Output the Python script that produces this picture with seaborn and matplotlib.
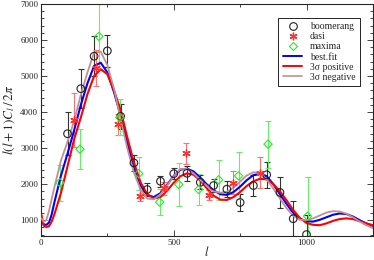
import pandas as pd
import matplotlib
matplotlib.use("Agg")
import matplotlib.pyplot as plt
import seaborn as sns
from matplotlib.ticker import MultipleLocator

# measured band powers
boom_l = [100, 150, 200, 250, 300, 350, 400, 450, 500, 550, 600, 650, 700, 750, 800, 850, 900, 950, 1000]
boom_v = [3400, 4650, 5550, 5700, 3880, 2590, 1850, 2080, 2290, 2300, 2050, 1960, 1860, 1490, 1960, 2260, 1770, 1040, 600]
boom_e = [600, 550, 550, 450, 350, 230, 180, 150, 150, 200, 190, 190, 220, 230, 290, 360, 420, 480, 550]

dasi_l = [124, 207, 290, 372, 462, 548, 632, 722, 823]
dasi_v = [3790, 5220, 3660, 1680, 1880, 2860, 1700, 2040, 2320]
dasi_e = [750, 500, 300, 150, 170, 290, 150, 320, 440]

maxima_l = [71, 147, 218, 297, 368, 447, 519, 594, 669, 744, 855, 1004]
maxima_v = [2040, 2970, 6100, 3850, 2290, 1500, 1990, 1850, 2120, 2230, 3110, 1110]
maxima_e = [500, 550, 900, 500, 460, 360, 600, 430, 550, 650, 650, 1100]

# model spectra
model_l = [2, 10, 20, 30, 40, 50, 75, 100, 125, 150, 175, 200, 225, 250, 275, 300, 325, 350, 375,
           400, 425, 450, 475, 500, 525, 550, 575, 600, 625, 650, 675, 700, 725, 750, 775, 800,
           825, 850, 875, 900, 925, 950, 975, 1000, 1025, 1050, 1075, 1100, 1125, 1150, 1175,
           1200, 1225, 1250]
best_fit = [1000, 880, 870, 930, 1150, 1480, 2230, 2850, 3500, 4200, 4800, 5280, 5370, 5100, 4550,
            3900, 3150, 2480, 1960, 1700, 1640, 1750, 1980, 2230, 2400, 2430, 2350, 2180, 1990,
            1830, 1720, 1700, 1780, 1930, 2110, 2250, 2290, 2220, 2000, 1720, 1450, 1200, 1040,
            970, 960, 1010, 1080, 1150, 1185, 1170, 1100, 1000, 910, 840]
sig_pos = [1140, 850, 810, 830, 960, 1150, 1750, 2500, 3250, 3850, 4500, 5000, 5190, 5050, 4600,
           4050, 3300, 2600, 2050, 1720, 1600, 1640, 1820, 2040, 2220, 2300, 2260, 2100, 1880,
           1680, 1570, 1560, 1640, 1780, 1950, 2080, 2150, 2130, 2000, 1800, 1550, 1280, 1060,
           920, 870, 860, 910, 980, 1030, 1050, 1030, 970, 910, 860]
sig_neg = [1050, 950, 1000, 1250, 1580, 1900, 2650, 3180, 3760, 4480, 5100, 5650, 5680, 5300, 4650,
           3800, 3000, 2320, 1850, 1600, 1580, 1720, 1960, 2220, 2420, 2420, 2300, 2120, 1950,
           1800, 1760, 1790, 1900, 2070, 2240, 2330, 2300, 2130, 1880, 1600, 1330, 1120, 1010,
           1000, 1050, 1130, 1210, 1250, 1240, 1180, 1080, 960, 860, 780]

sns.set_style("ticks")
plt.rcParams['font.family'] = ['Liberation Serif', 'DejaVu Serif']
plt.rcParams['mathtext.fontset'] = 'stix'

models = pd.DataFrame({
    "l": model_l * 3,
    "Cl": best_fit + sig_pos + sig_neg,
    "model": ["best.fit"] * len(model_l) + ["3σ positive"] * len(model_l) + ["3σ negative"] * len(model_l),
})

fig = plt.figure(figsize=(3.74, 2.6), dpi=100)
ax = fig.add_axes([0.1096, 0.0923, 0.8874, 0.8923])

# error bars first so markers sit on top
ax.errorbar(boom_l, boom_v, yerr=boom_e, fmt='none', ecolor='#333333', elinewidth=0.8, capsize=2.5, capthick=0.8, zorder=2)
ax.errorbar(dasi_l, dasi_v, yerr=dasi_e, fmt='none', ecolor='#ff7070', elinewidth=0.8, capsize=2.5, capthick=0.8, zorder=2)
ax.errorbar(maxima_l, maxima_v, yerr=maxima_e, fmt='none', ecolor='#66ee66', elinewidth=0.8, capsize=2.5, capthick=0.8, zorder=2)

sns.lineplot(data=models, x="l", y="Cl", hue="model", sort=False, estimator=None,
             palette={"best.fit": "#0000ff", "3σ positive": "#ff0000", "3σ negative": "#c09090"},
             size="model", sizes={"best.fit": 1.5, "3σ positive": 1.5, "3σ negative": 1.3},
             legend=False, ax=ax, zorder=3)

sns.scatterplot(x=boom_l, y=boom_v, marker='o', s=30, facecolor='none', edgecolor='#222222', linewidth=0.8, ax=ax, zorder=4)
sns.scatterplot(x=dasi_l, y=dasi_v, marker=(6, 2, 0), s=28, color='#ff3030', edgecolor='#ff3030', linewidth=1.0, ax=ax, zorder=4)
sns.scatterplot(x=maxima_l, y=maxima_v, marker='D', s=18, facecolor='none', edgecolor='#22ee22', linewidth=0.8, ax=ax, zorder=4)

handles = [
    plt.Line2D([], [], ls='none', marker='o', ms=5.5, mfc='none', mec='#222222', mew=0.8),
    plt.Line2D([], [], ls='none', marker=(6, 2, 0), ms=5.5, color='#ff3030', mew=1.0),
    plt.Line2D([], [], ls='none', marker='D', ms=4.5, mfc='none', mec='#22ee22', mew=0.8),
    plt.Line2D([], [], color='#0000ff', lw=1.4),
    plt.Line2D([], [], color='#ff0000', lw=1.4),
    plt.Line2D([], [], color='#c09090', lw=1.2),
]
labels = ["boomerang", "dasi", "maxima", "best.fit", "3σ positive", "3σ negative"]
leg = ax.legend(handles, labels, loc='upper right', bbox_to_anchor=(0.976, 0.962), fontsize=7,
                frameon=True, fancybox=False, edgecolor='black', framealpha=1,
                handlelength=2.0, handletextpad=0.8, labelspacing=0.12, borderpad=0.45)
leg.get_frame().set_linewidth(0.6)

ax.set_xlim(0, 1250)
ax.set_ylim(560, 7000)
ax.xaxis.set_major_locator(MultipleLocator(500))
ax.xaxis.set_minor_locator(MultipleLocator(250))
ax.yaxis.set_major_locator(MultipleLocator(1000))
ax.yaxis.set_minor_locator(MultipleLocator(200))
ax.tick_params(which='both', direction='in', top=True, right=True, labelsize=6.5, width=0.6, pad=2)
ax.tick_params(which='major', length=4)
ax.tick_params(which='minor', length=2)
for s in ax.spines.values():
    s.set_linewidth(0.8)

ax.set_xlabel("$l$", fontsize=9, labelpad=-1)
ax.set_ylabel(r"$l(l+1)C_l\,/\,2\pi$", fontsize=9.5, labelpad=2)

fig.savefig("out.png", dpi=100)
